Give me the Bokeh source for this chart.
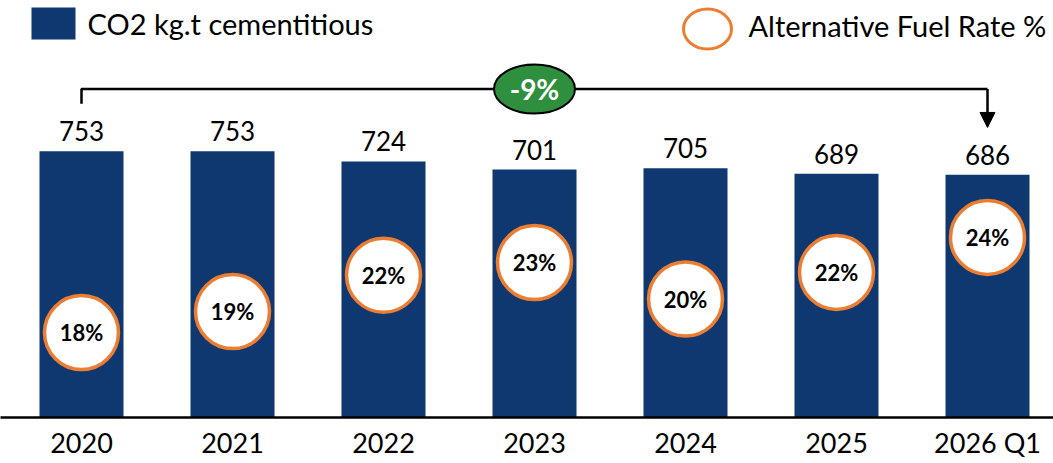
from bokeh.plotting import figure
from bokeh.models import Range1d, FixedTicker, Arrow, NormalHead
from bokeh.core.properties import value
from bokeh.embed import file_html
from bokeh.resources import INLINE

# ---- data ----
categories = ["2020", "2021", "2022", "2023", "2024", "2025", "2026 Q1"]
co2 = [753, 753, 724, 701, 705, 689, 686]
af_rate = [17.6, 19.1, 21.7, 22.6, 20.0, 21.9, 24.4]
legend_labels = ["CO2 kg.t cementitious", "Alternative Fuel Rate %"]

NAVY = "#0F3870"
ORANGE = "#ED7D31"
GREEN = "#2E8F3E"
FONT = "Lato"

xs = list(range(len(categories)))

# ---- layout constants (pixels) ----
FW, FH = 1053, 417
STEP = 151.0
X0 = -81 / STEP
X1 = X0 + FW / STEP
PXU = 0.3537
Y1 = FH / PXU
AF0 = (578.5 - 417) / 14.0
AF1 = 578.5 / 14.0


def px_x(px):
    return X0 + px / STEP


def py_y(py):
    return (417 - py) / PXU


p = figure(frame_width=FW, frame_height=FH, output_backend="svg", toolbar_location=None,
           x_range=Range1d(X0, X1), y_range=Range1d(0, Y1), y_axis_location=None,
           min_border=0, outline_line_color=None)
p.extra_y_ranges = {"af": Range1d(AF0, AF1)}
p.xgrid.visible = False
p.ygrid.visible = False

ax = p.xaxis[0]
ax.ticker = FixedTicker(ticks=xs)
ax.major_label_overrides = {i: c for i, c in zip(xs, categories)}
ax.major_tick_line_color = None
ax.minor_tick_line_color = None
ax.axis_line_color = "black"
ax.axis_line_width = 2.5
ax.major_label_text_font = FONT
ax.major_label_text_font_size = "27px"
ax.major_label_text_color = "black"
ax.major_label_standoff = 2

# bars
p.vbar(x=xs, top=co2, bottom=0, width=84 / STEP, fill_color=NAVY, line_color=None)
p.text(x=xs, y=co2, text=[str(v) for v in co2], text_align="center",
       text_baseline="bottom", y_offset=-10, text_font=value(FONT),
       text_font_size="26px", text_color="black")

# alternative fuel markers
p.scatter(x=xs, y=af_rate, y_range_name="af", marker="circle", size=74,
          fill_color="white", line_color=ORANGE, line_width=3.5)
p.text(x=xs, y=af_rate, y_range_name="af", text=[f"{round(v)}%" for v in af_rate],
       text_align="center", text_baseline="middle", text_font=value(FONT),
       text_font_size="22px", text_font_style="bold", text_color="black")

# bracket with arrow
BR = py_y(88.5)
p.line(x=[xs[0], xs[0], xs[-1]], y=[co2[0] + 134, BR, BR], line_color="black", line_width=2.5)
p.add_layout(Arrow(x_start=xs[-1], y_start=BR, x_end=xs[-1], y_end=co2[-1] + 134,
                   line_color="black", line_width=2.5,
                   end=NormalHead(size=15, fill_color="black", line_color="black")))
change = round((co2[-1] - co2[0]) / co2[0] * 100)
xm = (xs[0] + xs[-1]) / 2
p.ellipse(x=[xm], y=[BR], width=81, height=49, width_units="screen", height_units="screen",
          fill_color=GREEN, line_color="black", line_width=2)
p.text(x=[xm], y=[BR], text=[f"{change}%"], text_align="center", text_baseline="middle",
       text_font=value(FONT), text_font_size="28px", text_font_style="bold", text_color="white")

# legend
p.rect(x=[px_x(53)], y=[py_y(23)], width=44, height=32, width_units="screen",
       height_units="screen", fill_color=NAVY, line_color=None)
p.text(x=[px_x(87)], y=[py_y(22.5)], text=[legend_labels[0]], text_align="left",
       text_baseline="middle", text_font=value(FONT), text_font_size="29px", text_color="black")
p.ellipse(x=[px_x(707)], y=[py_y(28.5)], width=48, height=40, width_units="screen",
          height_units="screen", fill_color="white", line_color=ORANGE, line_width=3)
p.text(x=[px_x(748)], y=[py_y(24.5)], text=[legend_labels[1]], text_align="left",
       text_baseline="middle", text_font=value(FONT), text_font_size="29px", text_color="black")

open("out.html", "w").write(file_html(p, INLINE))
